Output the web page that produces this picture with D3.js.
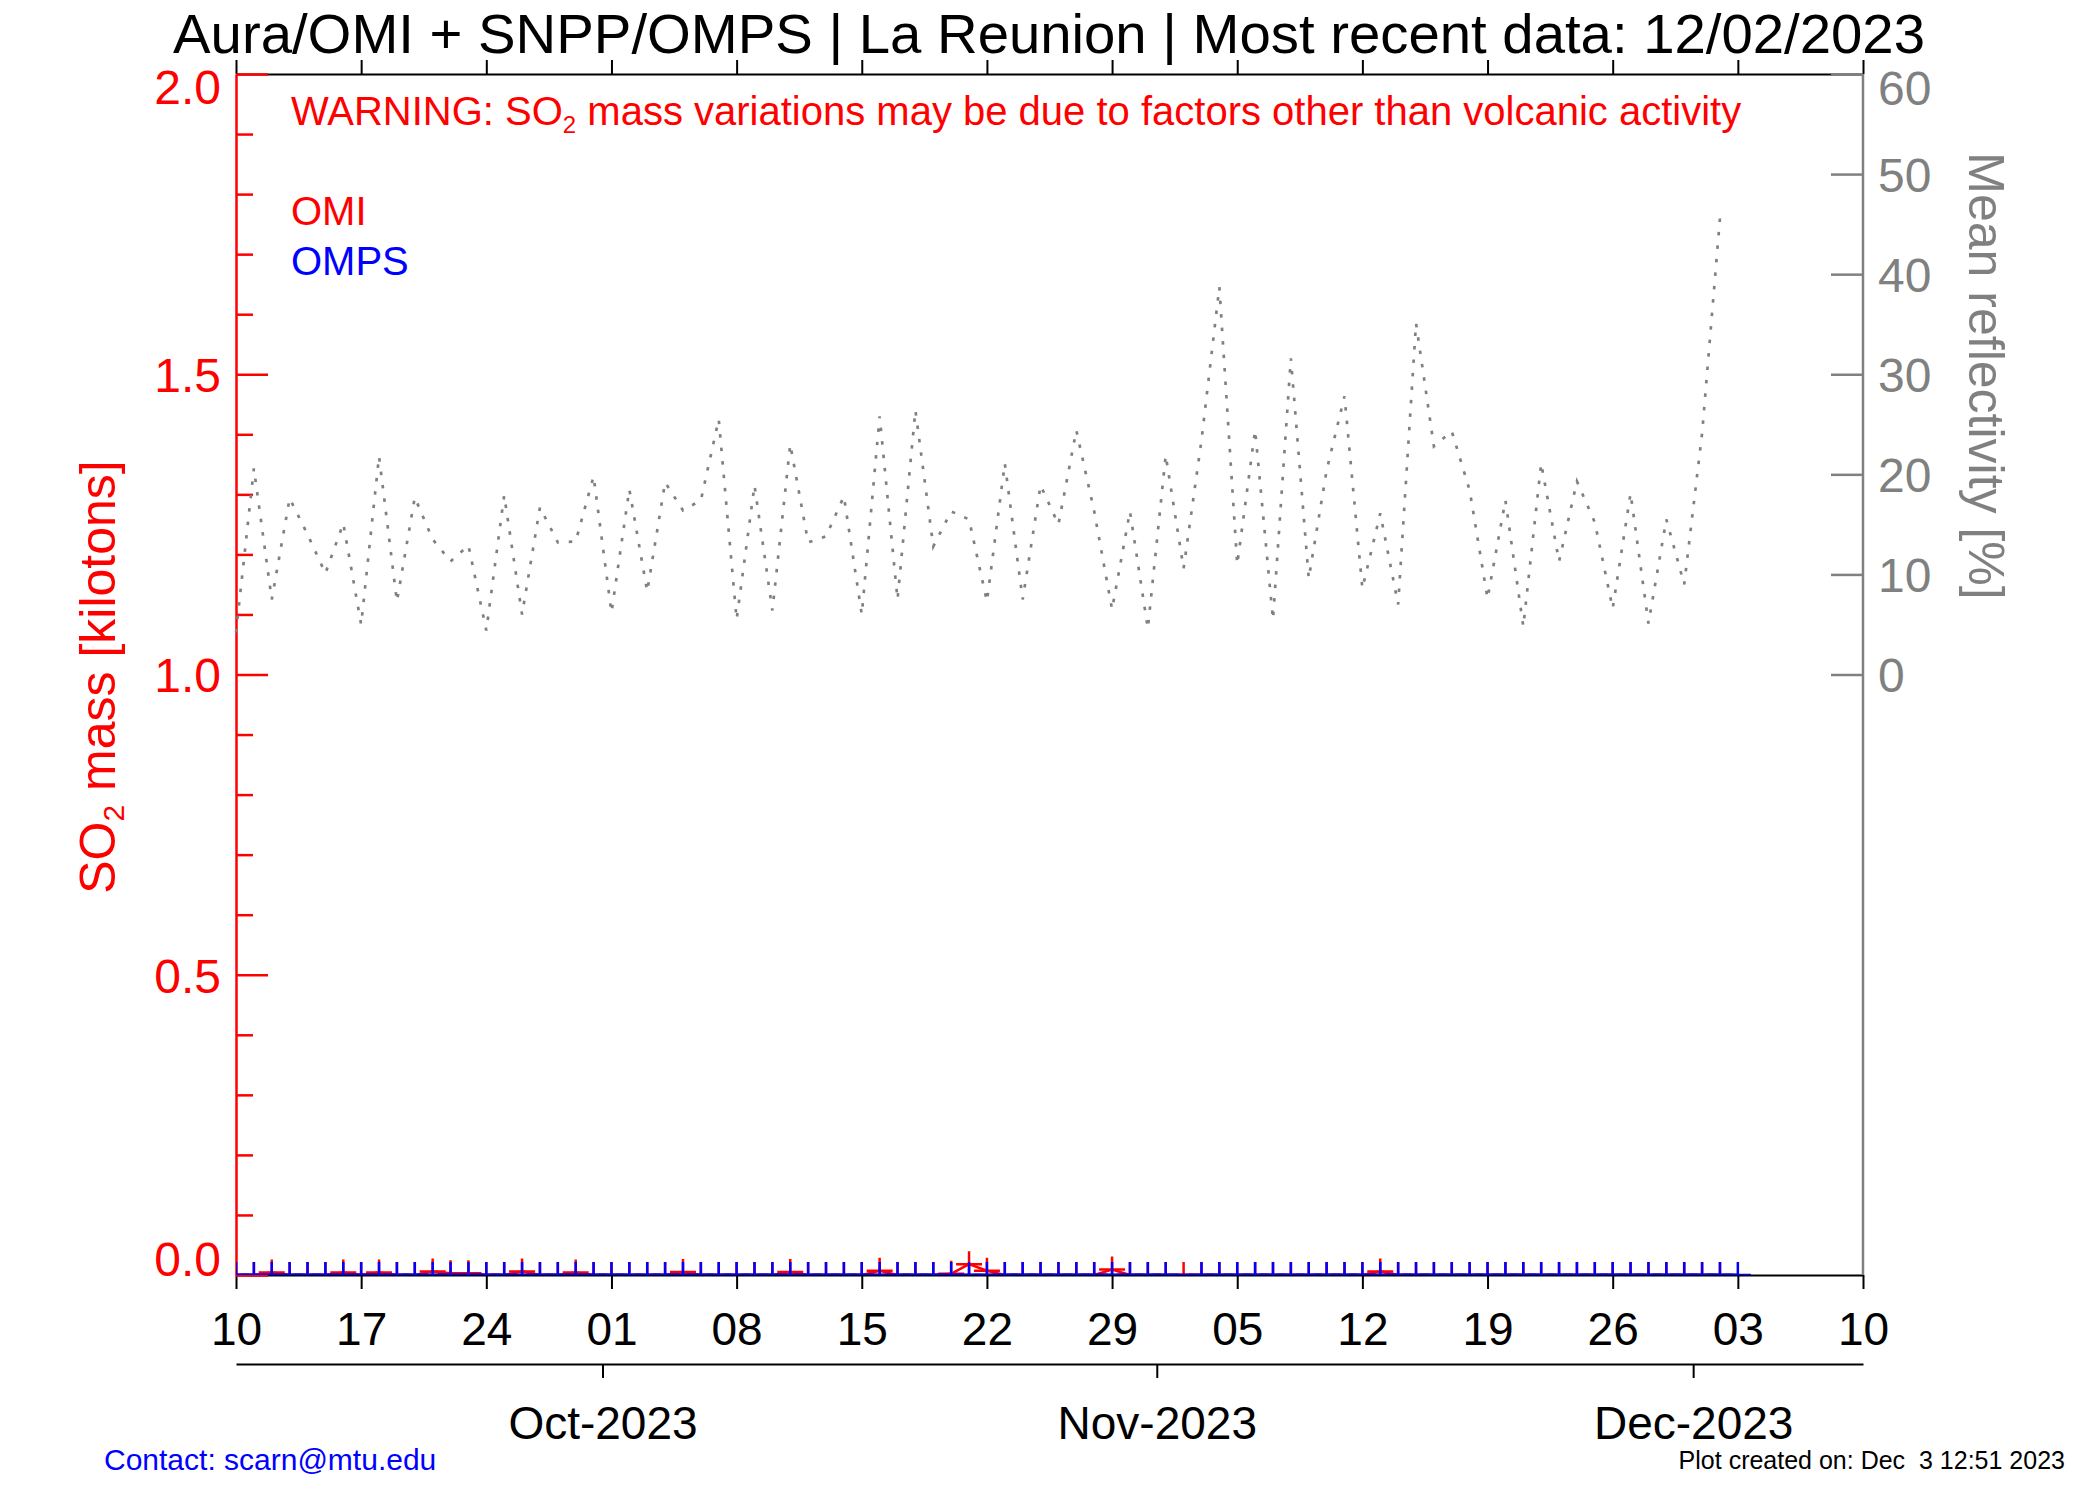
<!DOCTYPE html>
<html>
<head>
<meta charset="utf-8">
<script src="https://cdn.jsdelivr.net/npm/d3@7"></script>
<style>
  html, body { margin: 0; padding: 0; background: #fff; }
  svg { display: block; font-family: "Liberation Sans", Arial, Helvetica, sans-serif; }
</style>
</head>
<body>
<svg id="chart" width="2100" height="1500"></svg>
<script>
// ---------------- DATA ----------------
const titleText = "Aura/OMI + SNPP/OMPS | La Reunion | Most recent data: 12/02/2023";
const firstDay = "2023-09-10";
const axisStart = "2023-09-10";
const axisEnd = "2023-12-10";

// Mean reflectivity [%], one value per day from 2023-09-10 to 2023-12-02
const reflectivity = [
  4.2, 20.6, 7.5, 17.6, 14.0, 10.1, 15.1, 5.0, 21.8, 7.3,
  17.7, 13.5, 11.3, 12.9, 4.4, 17.9, 6.0, 16.7, 13.2, 13.3,
  19.8, 6.2, 18.5, 8.3, 19.2, 16.4, 17.4, 25.5, 5.5, 18.9,
  6.4, 23.0, 13.2, 13.8, 17.8, 6.0, 25.8, 7.5, 26.4, 12.8,
  16.3, 15.5, 7.3, 21.1, 7.5, 18.9, 15.0, 24.4, 16.3, 6.5,
  16.3, 4.6, 21.9, 10.6, 23.4, 38.7, 11.0, 24.4, 5.5, 31.6,
  9.6, 20.4, 27.8, 8.6, 16.1, 7.0, 35.1, 22.8, 24.3, 18.4,
  7.6, 17.4, 4.8, 21.1, 11.3, 19.3, 15.2, 6.6, 18.1, 5.1,
  15.5, 9.0, 24.1, 45.6
];

// OMI SO2 mass [kt], one value per day from 2023-09-10 to 2023-12-02
const omiMass = [
  0, 0, 0.004, 0, 0, 0, 0.004, 0, 0.004, 0,
  0, 0.006, 0.003, 0.003, 0, 0, 0.006, 0, 0, 0.004,
  0, 0, 0, 0, 0, 0.005, 0, 0, 0, 0,
  0, 0.005, 0, 0, 0, 0, 0.007, 0, 0, 0,
  0.002, 0.018, 0.007, 0, 0, 0, 0, 0, 0, 0.009,
  0, 0, 0, 0, 0, 0, 0, 0, 0, 0,
  0, 0, 0, 0, 0.006, 0, 0, 0, 0, 0,
  0, 0, 0, 0, 0, 0, 0, 0, 0, 0,
  0, 0, 0, 0
];

// OMPS SO2 mass [kt], one value per day from 2023-09-10 to 2023-12-03 (null = missing)
const ompsMass = [
  0, 0, 0, 0, 0, 0, 0, 0, 0, 0,
  0, 0, 0, 0, 0, 0, 0, 0, 0, 0,
  0, 0, 0, 0, 0, 0, 0, 0, 0, 0,
  0, 0, 0, 0, 0, 0, 0, 0, 0, 0,
  0, 0, 0, 0, 0, 0, 0, 0, 0, 0,
  0, 0, 0, null, 0, 0, 0, 0, 0, 0,
  0, 0, 0, 0, 0, 0, 0, 0, 0, 0,
  0, 0, 0, 0, 0, 0, 0, 0, 0, 0,
  0, 0, 0, 0, 0
];

const weekTickDates = ["2023-09-10","2023-09-17","2023-09-24","2023-10-01","2023-10-08","2023-10-15","2023-10-22",
                       "2023-10-29","2023-11-05","2023-11-12","2023-11-19","2023-11-26","2023-12-03","2023-12-10"];
const weekTickLabels = ["10","17","24","01","08","15","22","29","05","12","19","26","03","10"];
const monthTickDates = ["2023-10-01","2023-11-01","2023-12-01"];
const monthTickLabels = ["Oct-2023","Nov-2023","Dec-2023"];
const so2Ticks = [0, 0.5, 1.0, 1.5, 2.0];
const so2TickLabels = ["0.0","0.5","1.0","1.5","2.0"];
const so2MinorTicks = [0.1,0.2,0.3,0.4,0.6,0.7,0.8,0.9,1.1,1.2,1.3,1.4,1.6,1.7,1.8,1.9];
const reflTicks = [0, 10, 20, 30, 40, 50, 60];

// ---------------- LAYOUT ----------------
const L = 236, R = 1863, T = 74, B = 1275;
const RED = "#ff0000", BLUE = "#0000ff", GREY = "#808080";
const parse = d3.utcParse("%Y-%m-%d");
const HALF_DAY = 12 * 3600 * 1000;
const dayDate = i => d3.utcDay.offset(parse(firstDay), i);

const svg = d3.select("#chart");
svg.append("rect").attr("width", 2100).attr("height", 1500).attr("fill", "#fff");

const x = d3.scaleUtc().domain([parse(axisStart), parse(axisEnd)]).range([L, R]);
const y = d3.scaleLinear().domain([0, 2]).range([B, T]);
const y2 = d3.scaleLinear().domain([0, 60]).range([y(1), y(2)]);

svg.append("clipPath").attr("id", "plotclip")
  .append("rect").attr("x", L).attr("y", T).attr("width", R - L).attr("height", B - T);

// ---------------- TITLE / TEXTS ----------------
svg.append("text").attr("x", 1049).attr("y", 53).attr("text-anchor", "middle")
  .attr("font-size", 56.3).attr("fill", "#000").text(titleText);

const warn = svg.append("text").attr("x", 291).attr("y", 125).attr("font-size", 40).attr("fill", RED);
warn.append("tspan").text("WARNING: SO");
warn.append("tspan").attr("font-size", 24).attr("dy", 8).text("2");
warn.append("tspan").attr("dy", -8).text(" mass variations may be due to factors other than volcanic activity");

svg.append("text").attr("x", 291).attr("y", 225).attr("font-size", 40).attr("fill", RED).text("OMI");
svg.append("text").attr("x", 291).attr("y", 275).attr("font-size", 40).attr("fill", BLUE).text("OMPS");

const ylab = svg.append("text").attr("transform", "translate(115,677) rotate(-90)")
  .attr("text-anchor", "middle").attr("font-size", 50).attr("fill", RED);
ylab.append("tspan").text("SO");
ylab.append("tspan").attr("font-size", 30).attr("dy", 9).text("2");
ylab.append("tspan").attr("dy", -9).text(" mass [kilotons]");

svg.append("text").attr("transform", "translate(1969,376) rotate(90)")
  .attr("text-anchor", "middle").attr("font-size", 50).attr("fill", GREY).text("Mean reflectivity [%]");

svg.append("text").attr("x", 104).attr("y", 1470).attr("font-size", 30).attr("fill", BLUE)
  .text("Contact: scarn@mtu.edu");
svg.append("text").attr("x", 2065).attr("y", 1469).attr("font-size", 25).attr("fill", "#000")
  .attr("text-anchor", "end").style("white-space", "pre").text("Plot created on: Dec  3 12:51 2023");

// ---------------- AXES ----------------
function styleAxis(g, color, width, fontSize) {
  g.selectAll(".domain").attr("stroke", color).attr("stroke-width", width);
  g.selectAll(".tick line").attr("stroke", color).attr("stroke-width", width);
  g.selectAll(".tick text").attr("fill", color).attr("font-size", fontSize)
    .attr("font-family", "Liberation Sans, Arial, sans-serif");
}

const weekDates = weekTickDates.map(parse);
const gBottom = svg.append("g").attr("transform", `translate(0,${B})`)
  .call(d3.axisBottom(x).tickValues(weekDates).tickSize(14).tickSizeOuter(0).tickPadding(23)
    .tickFormat((d, i) => weekTickLabels[i]));
styleAxis(gBottom, "#000", 2, 46);

const gTop = svg.append("g").attr("transform", `translate(0,${T})`)
  .call(d3.axisTop(x).tickValues(weekDates).tickSize(14).tickSizeOuter(0).tickFormat(""));
styleAxis(gTop, "#000", 2, 46);

const monthDates = monthTickDates.map(s => new Date(parse(s).getTime() - HALF_DAY));
const gMonth = svg.append("g").attr("transform", "translate(0,1364)")
  .call(d3.axisBottom(x).tickValues(monthDates).tickSize(14).tickSizeOuter(0).tickPadding(28)
    .tickFormat((d, i) => monthTickLabels[i]));
styleAxis(gMonth, "#000", 2, 46);

svg.append("line").attr("x1", R).attr("x2", R).attr("y1", T).attr("y2", B)
  .attr("stroke", GREY).attr("stroke-width", 2.5);
const gRight = svg.append("g").attr("transform", `translate(${R},0)`)
  .call(d3.axisRight(y2).tickValues(reflTicks).tickSize(-32).tickSizeOuter(0).tickPadding(15)
    .tickFormat(d3.format("d")));
gRight.select(".domain").remove();
styleAxis(gRight, GREY, 2.5, 48);
gRight.selectAll(".tick text").attr("dy", d => d === 60 ? "0.64em" : "0.36em");

const gLeftMinor = svg.append("g").attr("transform", `translate(${L},0)`)
  .call(d3.axisLeft(y).tickValues(so2MinorTicks).tickSize(-17).tickSizeOuter(0).tickFormat(""));
gLeftMinor.select(".domain").remove();
styleAxis(gLeftMinor, RED, 2.5, 48);

const gLeft = svg.append("g").attr("transform", `translate(${L},0)`)
  .call(d3.axisLeft(y).tickValues(so2Ticks).tickSize(-32).tickSizeOuter(0).tickPadding(15)
    .tickFormat((d, i) => so2TickLabels[i]));
styleAxis(gLeft, RED, 2.5, 48);
gLeft.selectAll(".tick text").attr("dy", d => d === 2 ? "0.62em" : (d === 0 ? "0em" : "0.36em"));

// ---------------- DATA ----------------
const plot = svg.append("g").attr("clip-path", "url(#plotclip)");

const reflData = reflectivity.map((v, i) => ({ d: dayDate(i), v }));
svg.append("path").datum(reflData)
  .attr("fill", "none").attr("stroke", GREY).attr("stroke-width", 2.7)
  .attr("stroke-dasharray", "3.5,10")
  .attr("d", d3.line().x(p => x(p.d)).y(p => y2(p.v)));

const plusPath = "M-13,0H13M0,-13V13";

const omiData = omiMass.map((v, i) => ({ d: dayDate(i), v })).filter(p => p.v !== null);
plot.append("path").datum(omiData)
  .attr("fill", "none").attr("stroke", RED).attr("stroke-width", 2.5)
  .attr("d", d3.line().x(p => x(p.d)).y(p => y(p.v)));
plot.selectAll("path.omi").data(omiData).join("path").attr("class", "omi")
  .attr("transform", p => `translate(${x(p.d)},${y(p.v)})`)
  .attr("d", plusPath).attr("stroke", RED).attr("stroke-width", 2.5).attr("fill", "none");

const ompsData = ompsMass.map((v, i) => ({ d: dayDate(i), v })).filter(p => p.v !== null);
plot.append("path").datum(ompsData)
  .attr("fill", "none").attr("stroke", BLUE).attr("stroke-width", 3)
  .attr("d", d3.line().x(p => x(p.d)).y(p => y(p.v)));
plot.selectAll("path.omps").data(ompsData).join("path").attr("class", "omps")
  .attr("transform", p => `translate(${x(p.d)},${y(p.v)})`)
  .attr("d", plusPath).attr("stroke", BLUE).attr("stroke-width", 2.5).attr("fill", "none");
</script>
</body>
</html>
